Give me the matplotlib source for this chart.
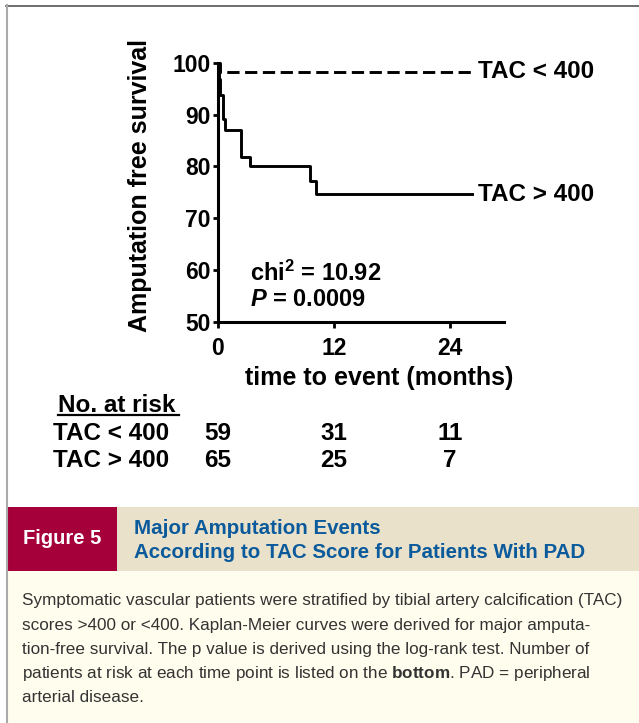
import matplotlib
matplotlib.use("Agg")
from matplotlib import pyplot as plt
from matplotlib import font_manager
from matplotlib.patches import Rectangle
from matplotlib.lines import Line2D
import matplotlib.transforms as mtransforms

# Kaplan-Meier curves
months_low = [0, 0.2, 26.3]
surv_low = [100, 98.3, 98.3]          # TAC < 400
months_high = [0, 0.1, 0.2, 0.55, 0.7, 2.35, 3.3, 9.5, 10.1, 26.3]
surv_high = [100, 96.9, 93.8, 89.2, 87.0, 81.8, 80.0, 77.2, 74.6, 74.6]  # TAC > 400

risk_months = [0, 12, 24]
risk_low = [59, 31, 11]
risk_high = [65, 25, 7]
group_names = ["TAC < 400", "TAC > 400"]

chi2 = "10.92"
p_value = "0.0009"

caption_title = ["Major Amputation Events", "According to TAC Score for Patients With PAD"]
caption_body = [
    "Symptomatic vascular patients were stratified by tibial artery calcification (TAC)",
    "scores >400 or <400. Kaplan-Meier curves were derived for major amputa-",
    "tion-free survival. The p value is derived using the log-rank test. Number of",
    r"patients at risk at each time point is listed on the $\mathbf{bottom}$. PAD = peripheral",
    "arterial disease.",
]

names = {f.name for f in font_manager.fontManager.ttflist}
narrow = "Liberation Sans Narrow" if "Liberation Sans Narrow" in names else "Liberation Sans"
body_size = 16.5 if narrow == "Liberation Sans Narrow" else 12.3

plt.rcParams["font.family"] = ["Liberation Sans", "DejaVu Sans"]
plt.rcParams["mathtext.fontset"] = "custom"
plt.rcParams["mathtext.rm"] = "Liberation Sans:bold"
plt.rcParams["mathtext.bf"] = narrow + ":bold"
plt.rcParams["mathtext.it"] = "Liberation Sans:italic:bold"

W, H = 639, 723
fig = plt.figure(figsize=(W / 100, H / 100), dpi=100)


def px(x, y):
    return x / W, 1 - y / H


# ---- chart ----
ax = fig.add_axes([218 / W, 1 - 322 / H, (504 - 218) / W, (322 - 62.7) / H])
ax.plot(months_low, surv_low, color="black", lw=2.1, drawstyle="steps-post",
        dashes=[4.2, 1.9], clip_on=False)
ax.plot(months_high, surv_high, color="black", lw=2.1, drawstyle="steps-post", clip_on=False)
ax.set_xlim(0, 29.6)
ax.set_ylim(50, 100)
ax.set_xticks(risk_months)
ax.set_yticks([50, 60, 70, 80, 90, 100])
for s in ["top", "right"]:
    ax.spines[s].set_visible(False)
for s in ["left", "bottom"]:
    ax.spines[s].set_linewidth(2.2)
ax.tick_params(axis="y", length=3.5, width=2, pad=2, labelsize=16.5)
ax.tick_params(axis="x", length=4.5, width=2, pad=6, labelsize=16.5)
for lab in ax.get_xticklabels() + ax.get_yticklabels():
    lab.set_fontweight("bold")

ax.set_ylabel("Amputation free survival", fontsize=18, fontweight="bold")
ax.yaxis.set_label_coords(-0.232, 0.525)
ax.set_xlabel("time to event (months)", fontsize=18, fontweight="bold", va="top")
ax.xaxis.set_label_coords(0.563, -0.168)

ax.text(26.9, surv_low[-1], group_names[0], fontsize=17.5, fontweight="bold", va="center")
ax.text(26.9, surv_high[-1], group_names[1], fontsize=17.5, fontweight="bold", va="center")
ax.text(3.3, 59.3, r"$\mathrm{chi}^{2}$ = " + chi2, fontsize=17, fontweight="bold", va="center")
ax.text(3.3, 54.3, r"$\mathit{P}$ = " + p_value, fontsize=17, fontweight="bold", va="center")

# ---- number at risk ----
fig.text(*px(58, 412.5), "No. at risk", fontsize=17.5, fontweight="bold", va="baseline")
fig.add_artist(Line2D([58 / W, 179 / W], [1 - 415.5 / H] * 2, color="black", lw=1.6))
trans = mtransforms.blended_transform_factory(ax.transData, fig.transFigure)
for row, (name, counts) in enumerate(zip(group_names, [risk_low, risk_high])):
    yb = 1 - (440.3 + row * 26.7) / H
    fig.text(53 / W, yb, name, fontsize=17.5, fontweight="bold", va="baseline")
    for m, c in zip(risk_months, counts):
        ax.text(m, yb, str(c), transform=trans, fontsize=17.5, fontweight="bold",
                ha="center", va="baseline", clip_on=False)

# ---- frame and caption ----
fig.add_artist(Line2D([6 / W, 1], [1 - 5.5 / H] * 2, color="#555555", lw=1.2))
fig.add_artist(Line2D([6.5 / W] * 2, [0, 1 - 5 / H], color="#aaaaaa", lw=1.5))
fig.add_artist(Rectangle(px(7.5, 571), (117 - 7.5) / W, 64 / H, facecolor="#a6003a",
                         edgecolor="none", transform=fig.transFigure))
fig.add_artist(Rectangle(px(117, 571), (W - 117) / W, 64 / H, facecolor="#e9e1ca",
                         edgecolor="none", transform=fig.transFigure))
fig.add_artist(Rectangle(px(7.5, H), (W - 7.5) / W, (H - 571) / H, facecolor="#fffdee",
                         edgecolor="none", transform=fig.transFigure))

fig.text(*px(62, 539), "Figure 5", color="white", fontsize=14.5, fontweight="bold",
         ha="center", va="center")
for i, line in enumerate(caption_title):
    fig.text(*px(134, 528 + i * 25), line, color="#0b5a9c", fontsize=14.8,
             fontweight="bold", va="center")
for i, line in enumerate(caption_body):
    fig.text(*px(22, 601 + i * 24.2), line, color="#333333", fontsize=body_size,
             family=[narrow, "DejaVu Sans"], va="center")

fig.savefig("out.png", dpi=100)
